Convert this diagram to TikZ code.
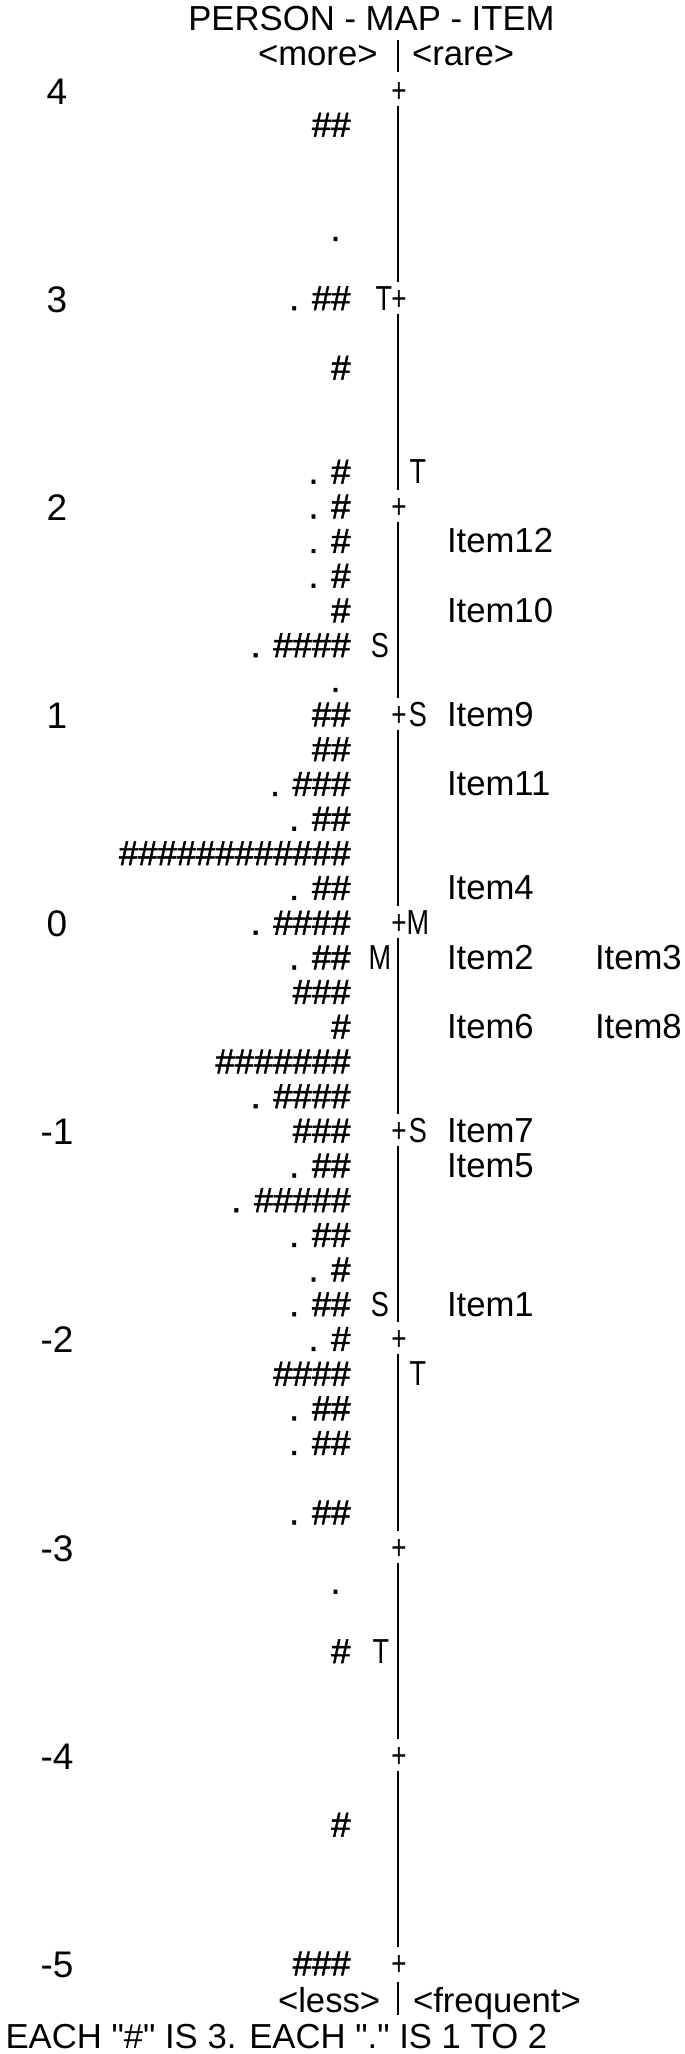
\documentclass[tikz,border=0pt]{standalone}
\usepackage{graphicx}
\usepackage{fontspec}
\newfontfamily\af{Liberation Sans}
\newfontfamily\afb{Liberation Sans}[FakeBold=1.5]
\begin{document}
\begin{tikzpicture}[x=1pt,y=-1pt,
  txt/.style={font=\af\fontsize{34.7}{40}\selectfont, inner sep=0pt, outer sep=0pt},
  num/.style={font=\af\fontsize{37}{42}\selectfont, inner sep=0pt, anchor=base},
  pers/.style={font=\afb\fontsize{34.7}{40}\selectfont, inner sep=0pt, outer sep=0pt, anchor=base east},
  mk/.style={txt, anchor=base},
  item/.style={txt, anchor=base west},
  axis/.style={line width=2.6pt}]
\fill[white] (0,0) rectangle (685,2054);
\useasboundingbox (0,0) rectangle (685,2054);
% header and footer
\node[txt, anchor=base] (title) at (371.5,30) {PERSON - MAP - ITEM};
\node[txt, anchor=base west] (more) at (258,65) {<more>};
\node[txt, anchor=base west] (rare) at (412,65) {<rare>};
\node[txt, anchor=base west] (less) at (278,2012) {<less>};
\node[txt, anchor=base west] (freq) at (413,2012) {<frequent>};
\node[txt, anchor=base west] (foot) at (5.5,2048) {EACH "\#" IS 3. EACH "." IS 1 TO 2};
\coordinate (h1) at (398,40); \coordinate (h2) at (398,72);
\draw[axis] (h1) -- (h2);
\coordinate (f1) at (398,1982); \coordinate (f2) at (398,2015);
\draw[axis] (f1) -- (f2);
% logit numbers
\foreach \r/\n in {0/4,6/3,12/2,18/1,24/0,30/-1,36/-2,42/-3,48/-4,54/-5}
  \node[num] (n\r) at (57,{89.5+34.69*\r+14.5}) {\n};
% axis ticks
\foreach \r in {0,6,...,54} {
  \coordinate (tk\r) at (398,{89.5+34.69*\r});
  \node[mk] (pl\r) at (399,{89.5+34.69*\r+12.5}) {\scalebox{0.75}[1]{+}};
}
\foreach \a/\b in {0/6,6/12,12/18,18/24,24/30,30/36,36/42,42/48,48/54}
  \draw[axis] ([yshift=-16pt]tk\a) -- ([yshift=16pt]tk\b);
% persons
\foreach \r/\t in {1/\#\#, 6/. \#\#, 8/\#, 11/. \#, 12/. \#, 13/. \#, 14/. \#, 15/\#,
  16/. \#\#\#\#, 18/\#\#, 19/\#\#, 20/. \#\#\#, 21/. \#\#, 22/\#\#\#\#\#\#\#\#\#\#\#\#,
  23/. \#\#, 24/. \#\#\#\#, 25/. \#\#, 26/\#\#\#, 27/\#, 28/\#\#\#\#\#\#\#, 29/. \#\#\#\#,
  30/\#\#\#, 31/. \#\#, 32/. \#\#\#\#\#, 33/. \#\#, 34/. \#, 35/. \#\#, 36/. \#,
  37/\#\#\#\#, 38/. \#\#, 39/. \#\#, 41/. \#\#, 45/\#, 50/\#, 54/\#\#\#}
  \node[pers] (p\r) at (350.5,{89.5+34.69*\r+12.5}) {\t};
\foreach \r in {4,17,43}
  \node[pers] (d\r) at (340.4,{89.5+34.69*\r+12.5}) {.};
% person distribution markers (left)
\foreach \r/\m/\x in {6/T/384, 16/S/380, 25/M/380, 35/S/380, 45/T/381}
  \node[mk] (lm\r) at (\x,{89.5+34.69*\r+12.5}) {\scalebox{0.78}[1]{\m}};
% item distribution markers (right)
\foreach \r/\m in {11/T, 18/S, 24/M, 30/S, 37/T}
  \node[mk] (rm\r) at (418,{89.5+34.69*\r+12.5}) {\scalebox{0.78}[1]{\m}};
% items
\foreach \r/\t in {13/Item12, 15/Item10, 18/Item9, 20/Item11, 23/Item4, 25/Item2,
  27/Item6, 30/Item7, 31/Item5, 35/Item1}
  \node[item] (i\t) at (447,{89.5+34.69*\r+12.5}) {\t};
\foreach \r/\t in {25/Item3, 27/Item8}
  \node[item] (i\t) at (595,{89.5+34.69*\r+12.5}) {\t};
\end{tikzpicture}
\end{document}
